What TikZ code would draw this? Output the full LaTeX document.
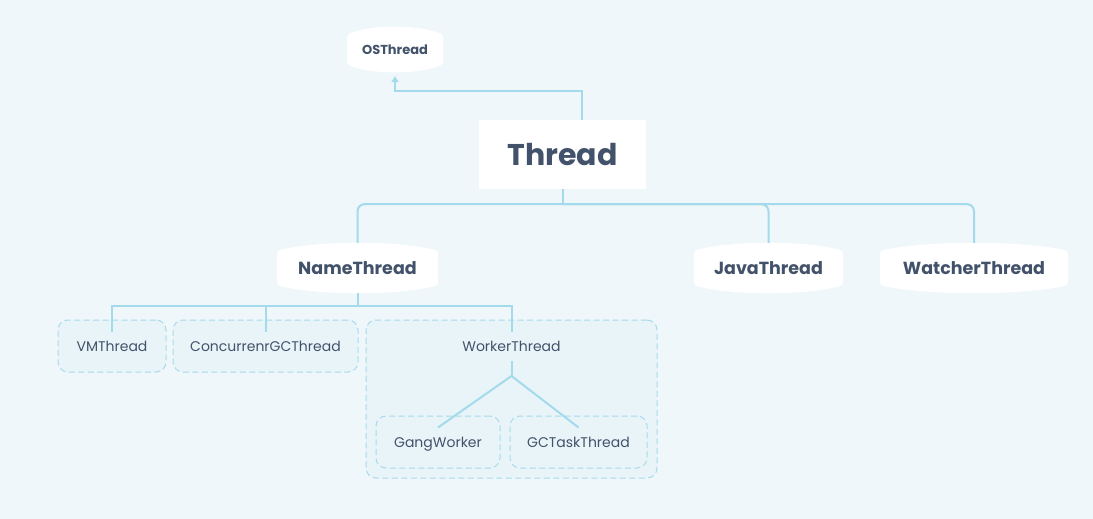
\documentclass[tikz,border=0pt]{standalone}
\usepackage{fontspec}
\setmainfont{Poppins}
\usetikzlibrary{arrows.meta,calc,backgrounds}
\begin{document}
\begin{tikzpicture}[x=1pt,y=-1pt]
\definecolor{bgcolor}{RGB}{239,247,250}
\definecolor{linecolor}{RGB}{163,218,236}
\definecolor{textcolor}{RGB}{66,82,106}
\definecolor{boxfill}{RGB}{233,244,249}
\definecolor{boxline}{RGB}{168,218,236}
\tikzset{
  barrelnode/.style = {text = textcolor, font = \bfseries, inner sep = 0pt},
  dashbox/.style = {draw = boxline, line width = 1pt, dash pattern = on 6pt off 3.5pt, fill = boxfill, rounded corners = 10pt, text = textcolor, inner sep = 0pt, minimum height = 52pt, text height = 12pt, text depth = 2pt},
  conn/.style = {draw = linecolor, line width = 2pt},
}
\useasboundingbox (0,0) rectangle (1093,519);
% nodes
\node[barrelnode, minimum width = 96pt, minimum height = 45pt, font = \bfseries\fontsize{13}{15}\selectfont] (os) at (395,49.5) {OSThread};
\node[fill = white, text = textcolor, minimum width = 167pt, minimum height = 69pt, font = \bfseries\fontsize{30}{34}\selectfont] (thread) at (562.5,154.5) {Thread};
\node[barrelnode, minimum width = 161pt, minimum height = 50pt, font = \bfseries\fontsize{17.5}{20}\selectfont] (name) at (357.5,268) {NameThread};
\node[barrelnode, minimum width = 149pt, minimum height = 50pt, font = \bfseries\fontsize{17.5}{20}\selectfont] (java) at (768.5,268) {JavaThread};
\node[barrelnode, minimum width = 188pt, minimum height = 50pt, font = \bfseries\fontsize{17.5}{20}\selectfont] (watcher) at (974,268) {WatcherThread};
\node[dashbox, minimum width = 291pt, minimum height = 158pt] (workbox) at (511.5,399) {};
\node[dashbox, minimum width = 108pt, font = \fontsize{14}{16}\selectfont] (vm) at (112,346) {VMThread};
\node[dashbox, minimum width = 185pt, font = \fontsize{14}{16}\selectfont] (cgc) at (265.5,346) {ConcurrenrGCThread};
\node[text = textcolor, minimum height = 30pt, inner sep = 0pt, text height = 12pt, text depth = 2pt, font = \fontsize{14}{16}\selectfont] (worker) at (511.5,346) {WorkerThread};
\node[dashbox, minimum width = 124pt, font = \fontsize{14}{16}\selectfont] (gang) at (438,442) {GangWorker};
\node[dashbox, minimum width = 137pt, font = \fontsize{14}{16}\selectfont] (gctask) at (578.5,442) {GCTaskThread};
\coordinate (bus) at ($(thread.south)+(0,15)$);
\coordinate (namebus) at ($(name.south)+(0,13)$);
\coordinate (fork) at (511.5,376);
% white barrels behind the bold names
\begin{scope}[on background layer]
\fill[bgcolor] (0,0) rectangle (1093,519);
\foreach \b in {os,name,java,watcher}
  \fill[white, rounded corners = 3pt] ([yshift=-8pt]\b.north west) .. controls ($(\b.north west)!0.25!(\b.north east)+(0,-2.5)$) and ($(\b.north west)!0.75!(\b.north east)+(0,-2.5)$) .. ([yshift=-8pt]\b.north east) -- ([yshift=8pt]\b.south east) .. controls ($(\b.south west)!0.75!(\b.south east)+(0,2.5)$) and ($(\b.south west)!0.25!(\b.south east)+(0,2.5)$) .. ([yshift=8pt]\b.south west) -- cycle;
\end{scope}
% connectors
\draw[conn, -{Triangle[width=7pt,length=6pt]}, shorten >= 4pt] ([xshift=19.5pt]thread.north) -- ++(0,-29) -| (os.south);
\draw[conn] (thread.south) -- (bus);
\draw[conn, rounded corners = 7pt] (bus) -| (name.north);
\draw[conn, rounded corners = 7pt] (bus) -| (java.north);
\draw[conn, rounded corners = 7pt] (bus) -| (watcher.north);
\draw[conn] (name.south) -- (namebus);
\draw[conn] (namebus) -| ([yshift=-12pt]vm.north);
\draw[conn] (namebus) -| ([yshift=-12pt]cgc.north);
\draw[conn] (namebus) -| ([yshift=-12pt]workbox.north);
\draw[conn] (worker.south) -- (fork);
\draw[conn] (fork) -- ([yshift=-12pt]gang.north);
\draw[conn] (fork) -- ([yshift=-12pt]gctask.north);
\end{tikzpicture}
\end{document}
